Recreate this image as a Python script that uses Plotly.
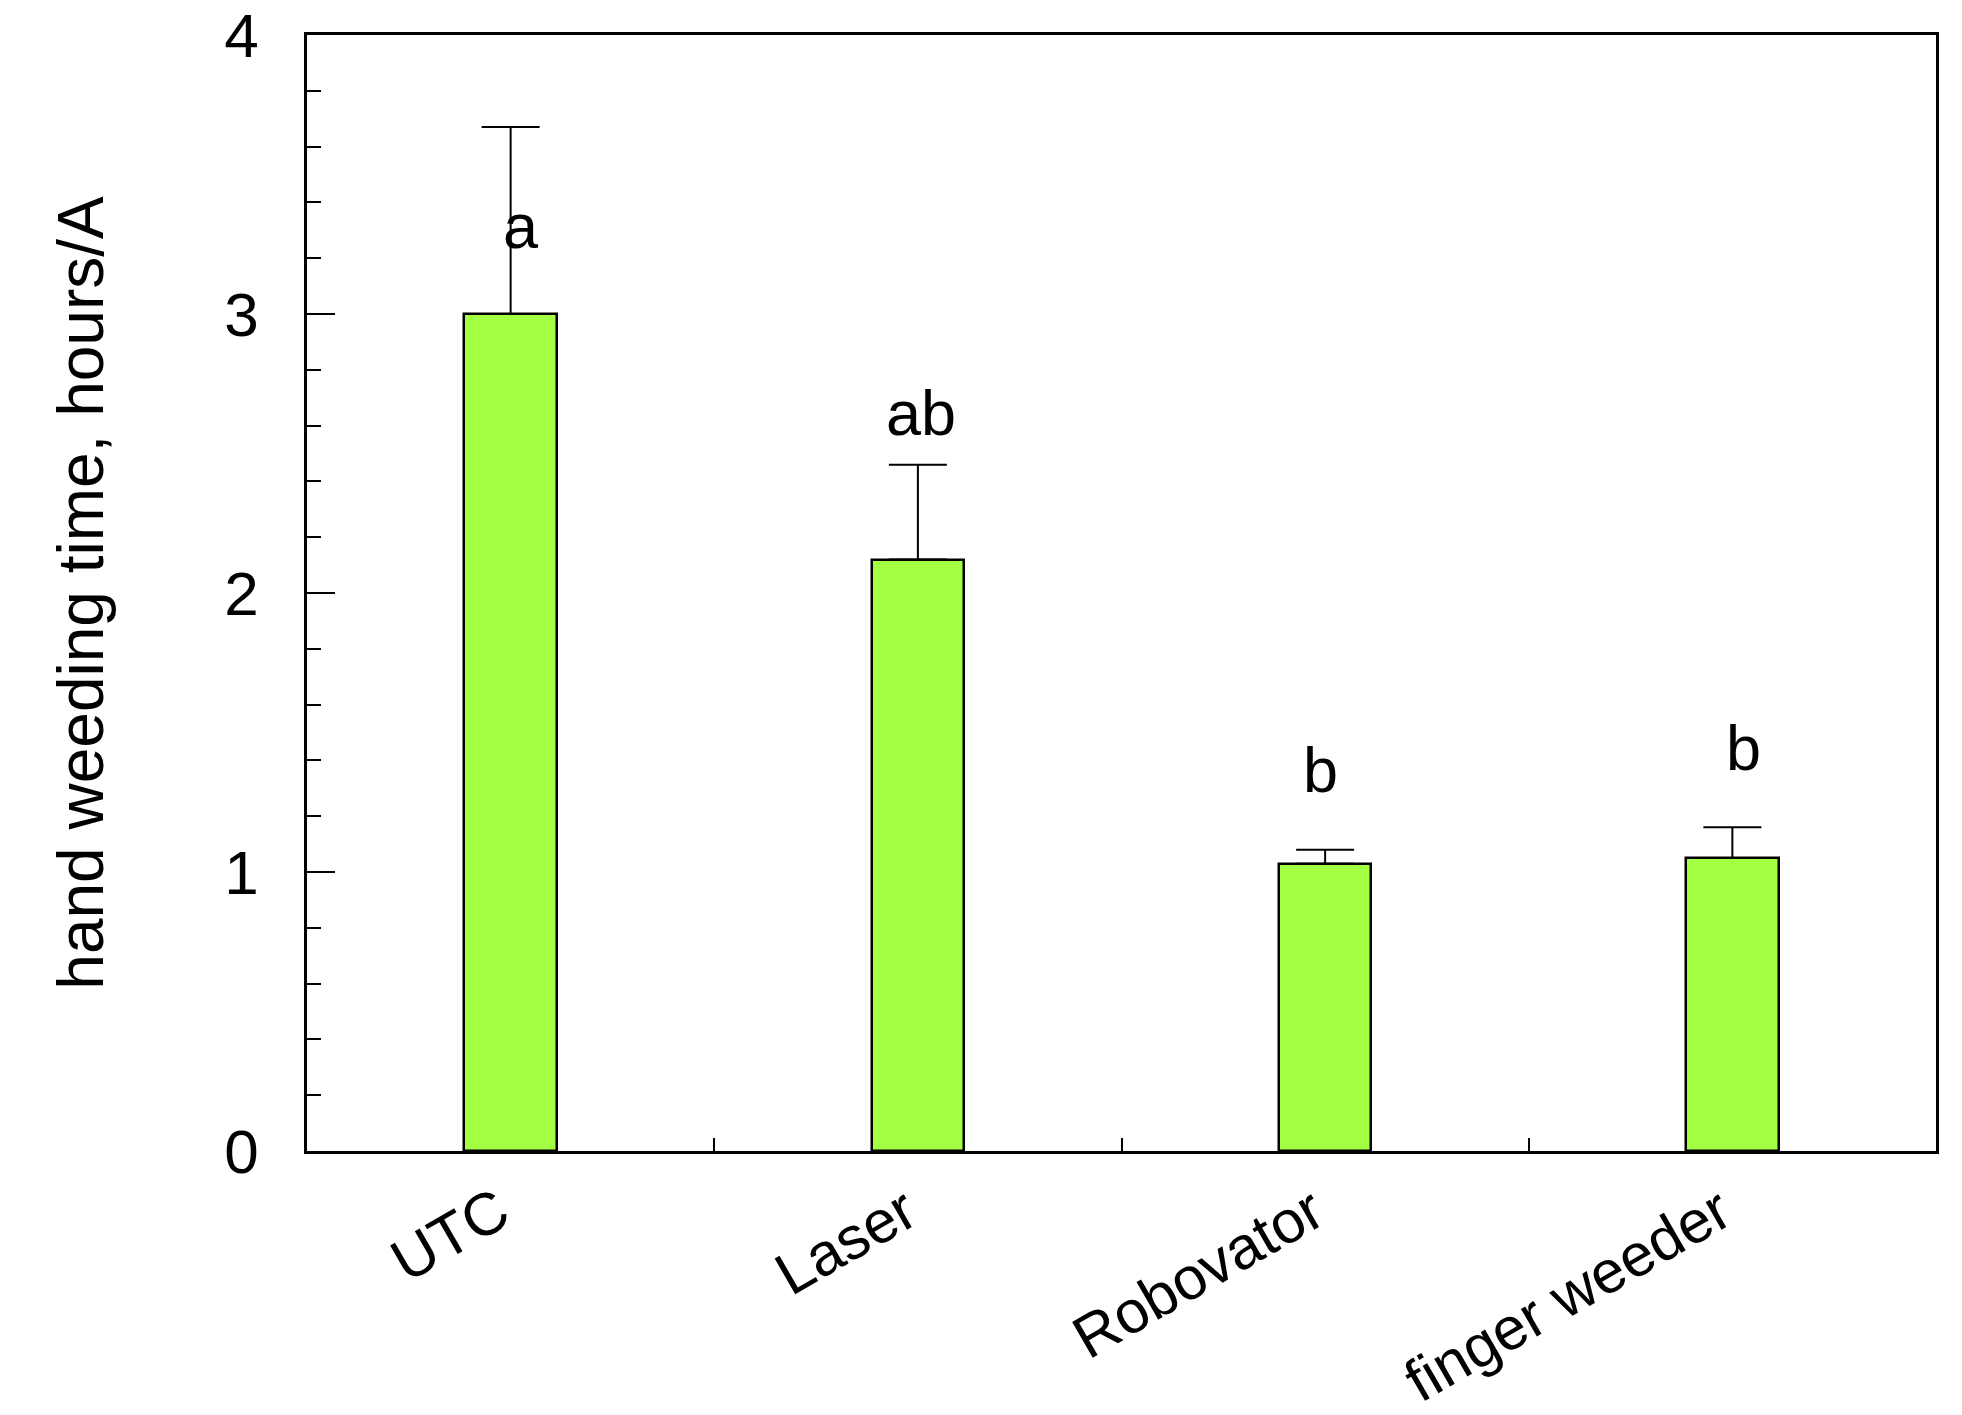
import plotly.graph_objects as go

categories = ["UTC", "Laser", "Robovator", "finger weeder"]
means = [3.00, 2.12, 1.03, 1.05]
errors_plus = [0.67, 0.34, 0.05, 0.11]
letters = ["a", "ab", "b", "b"]
letter_y = [3.315, 2.645, 1.365, 1.445]
y_tick_vals = [0, 1, 2, 3, 4]
y_tick_text = ["0", "1", "2", "3", "4"]

# small horizontal offsets (px) of the letter labels
letter_xshift = [10, 3, -5, 11]

FONT = "Liberation Sans, Arial, Helvetica, sans-serif"
BAR_COLOR = "#A3FF41"

fig = go.Figure()
fig.add_trace(go.Bar(
    x=categories,
    y=means,
    width=0.227,
    marker=dict(color=BAR_COLOR, line=dict(color="black", width=2.5)),
    error_y=dict(type="data", symmetric=False, array=errors_plus,
                 arrayminus=[0] * len(means), color="black",
                 thickness=2, width=29),
    showlegend=False,
))

for cat, lab, ly, xs in zip(categories, letters, letter_y, letter_xshift):
    fig.add_annotation(x=cat, y=ly, text=lab, showarrow=False,
                       xanchor="center", yanchor="middle", xshift=xs,
                       font=dict(family=FONT, size=63, color="black"))

fig.update_layout(
    width=1954, height=1407,
    margin=dict(l=299, r=26, t=27, b=264, autoexpand=False),
    plot_bgcolor="white", paper_bgcolor="white",
    font=dict(family=FONT, color="black"),
    bargap=0,
)
fig.update_xaxes(
    range=[-0.5, 3.5], automargin=False,
    showline=True, linecolor="black", linewidth=2.5, mirror=True,
    ticks="inside", ticklen=13, tickwidth=2, tickcolor="black",
    tickson="boundaries",
    tickangle=-30,
    ticklabelshift=-12,
    ticklabeloverflow="allow",
    tickfont=dict(family=FONT, size=60, color="black"),
    showgrid=False, zeroline=False,
)
fig.update_yaxes(
    range=[0, 4], automargin=False,
    tickvals=y_tick_vals, ticktext=y_tick_text,
    showline=True, linecolor="black", linewidth=2.5, mirror=True,
    ticks="inside", ticklen=28, tickwidth=2, tickcolor="black",
    ticklabelstandoff=33,
    ticklabeloverflow="allow",
    minor=dict(dtick=0.2, ticks="inside", ticklen=14, tickwidth=2,
               tickcolor="black", showgrid=False),
    tickfont=dict(family=FONT, size=62, color="black"),
    title=dict(text="hand weeding time, hours/A",
               font=dict(family=FONT, size=64, color="black"),
               standoff=100),
    showgrid=False, zeroline=False,
)

fig.write_html("out.html")
